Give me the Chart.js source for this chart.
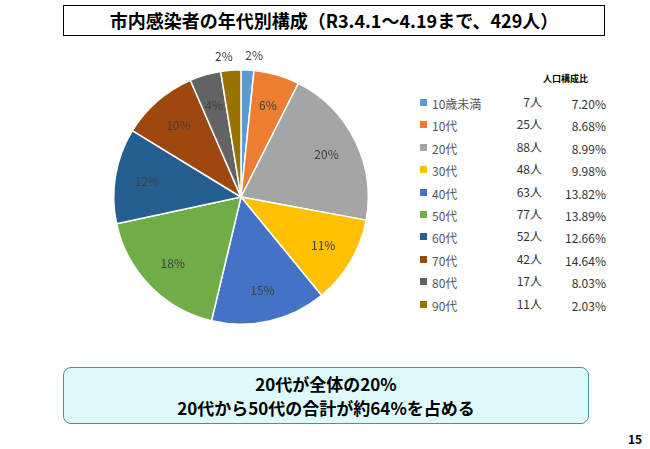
<!DOCTYPE html>
<html><head><meta charset="utf-8">
<script src="https://cdn.jsdelivr.net/npm/chart.js@4"></script>
<style>
body{margin:0;width:650px;height:449px;background:#fff;font-family:"Noto Sans CJK JP",sans-serif;position:relative;overflow:hidden}
#title{position:absolute;left:63px;top:5px;width:540px;height:29px;border:1.5px solid #000;font-weight:bold;font-size:18px;text-align:center;line-height:29px}
#wrap{position:absolute;left:91px;top:47px;width:300px;height:300px}
#leg{position:absolute;left:416px;top:93px;font-size:12px;color:#333}
.row{position:relative;height:22.4px;width:190px}
.sw{position:absolute;left:4px;top:6px;width:7px;height:7px}
.nm{position:absolute;left:16px;top:2px;color:#555}
.ct{position:absolute;right:64px;top:0px;color:#333}
.pc{position:absolute;right:0;top:2px;color:#333}
#hdr{position:absolute;left:543px;top:72px;font-size:9px;font-weight:bold}
#note{position:absolute;left:63px;top:367px;width:526px;height:57px;background:#dffafc;border:1px solid #4a8fb0;border-radius:8px;text-align:center;font-weight:bold;font-size:17px;line-height:24px;padding-top:4px;box-sizing:border-box}
#pg{position:absolute;left:628px;top:430px;font-size:12px;font-weight:bold}
</style></head><body>
<div id="title">市内感染者の年代別構成（R3.4.1～4.19まで、429人）</div>
<div id="wrap"><canvas id="c"></canvas></div>
<div id="hdr">人口構成比</div>
<div id="leg"></div>
<div id="note">20代が全体の20%<br>20代から50代の合計が約64%を占める</div>
<div id="pg">15</div>
<script>
const categories = ["10歳未満","10代","20代","30代","40代","50代","60代","70代","80代","90代"];
const counts = [7,25,88,48,63,77,52,42,17,11];
const sliceLabels = ["2%","6%","20%","11%","15%","18%","12%","10%","4%","2%"];
const popShare = ["7.20%","8.68%","8.99%","9.98%","13.82%","13.89%","12.66%","14.64%","8.03%","2.03%"];
const colors = ["#5B9BD5","#ED7D31","#A5A5A5","#FFC000","#4472C4","#70AD47","#255E91","#9E480E","#636363","#997300"];

const leg = document.getElementById("leg");
categories.forEach((c,i)=>{
  leg.innerHTML += `<div class="row"><span class="sw" style="background:${colors[i]}"></span><span class="nm">${c}</span><span class="ct">${counts[i]}人</span><span class="pc">${popShare[i]}</span></div>`;
});

const labelPlugin = {
  id:"sliceLabels",
  afterDatasetsDraw(chart){
    const ctx = chart.ctx;
    ctx.save();
    ctx.font = "12px 'Noto Sans CJK JP'";
    ctx.fillStyle = "#404040";
    ctx.textAlign = "center"; ctx.textBaseline = "middle";
    chart.getDatasetMeta(0).data.forEach((a,i)=>{
      const mid = (a.startAngle+a.endAngle)/2;
      let x, y;
      if(i===0 || i===categories.length-1){
        const r = a.outerRadius + 12;
        x = a.x + Math.cos(mid)*r + (i===0?6:-6);
        y = a.y + Math.sin(mid)*r - 2;
      } else {
        const r = a.outerRadius*0.75;
        x = a.x + Math.cos(mid)*r; y = a.y + Math.sin(mid)*r;
      }
      ctx.fillText(sliceLabels[i], x, y);
    });
    ctx.restore();
  }
};

new Chart(document.getElementById("c"), {
  type:"pie",
  data:{labels:categories, datasets:[{data:counts, backgroundColor:colors, borderColor:"#fff", borderWidth:1.5}]},
  options:{responsive:true, maintainAspectRatio:false, animation:false,
    layout:{padding:22},
    plugins:{legend:{display:false}, tooltip:{enabled:false}}},
  plugins:[labelPlugin]
});
</script>
</body></html>
